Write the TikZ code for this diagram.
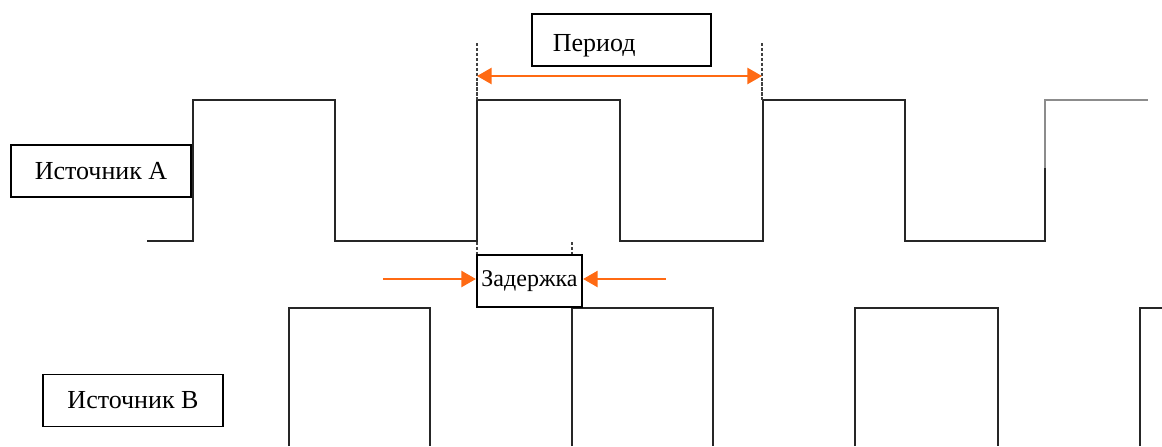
\documentclass[tikz,border=0pt]{standalone}
\usepackage{fontspec}
\setmainfont{Liberation Serif}
\usetikzlibrary{arrows.meta}
\definecolor{orng}{HTML}{FF6A13}
\begin{document}
\begin{tikzpicture}[x=0.75pt,y=-0.75pt,
  wave/.style={line width=1.5pt,line join=miter,black!85},
  grwave/.style={line width=1.5pt,black!45},
  dsh/.style={line width=1.1pt,black!75,dash pattern=on 2.5pt off 1.2pt},
  lbl/.style={draw,line width=1.3pt,inner sep=0pt,minimum height=39pt,font=\fontsize{19.5}{22}\selectfont},
  oarr/.style={draw=orng,line width=2pt,-{Triangle[length=11pt,width=12pt]}}]
\useasboundingbox (0,0) rectangle (1162,446);
% waveform A
\draw[wave] (147,241) -- (193,241) -- (193,100) -- (335,100) -- (335,241) -- (477,241) -- (477,100)
  -- (620,100) -- (620,241) -- (763,241) -- (763,100) -- (905,100) -- (905,241) -- (1045,241) -- (1045,168);
\draw[grwave] (1045,168) -- (1045,100) -- (1148,100);
% waveform B
\draw[wave] (289,446) -- (289,308) -- (430,308) -- (430,446);
\draw[wave] (572,446) -- (572,308) -- (713,308) -- (713,446);
\draw[wave] (855,446) -- (855,308) -- (998,308) -- (998,446);
\draw[wave] (1140,446) -- (1140,308) -- (1162,308);
% dashed markers
\coordinate (pl) at (477,76);
\coordinate (pr) at (762,76);
\draw[dsh] (477,43) -- (477,100);
\draw[dsh] (762,43) -- (762,100);
\draw[dsh] (477,242) -- (477,256);
\draw[dsh] (572,242) -- (572,256);
% labels
\node[lbl,minimum width=135pt] (srcA) at (101,171) {Источник А};
\node[lbl,minimum width=135pt] (srcB) at (133,400.5) {Источник В};
\node[lbl,minimum width=134pt,text width=103pt,inner xsep=15.5pt,align=left,text height=19pt,text depth=2.5pt] (period) at (621.5,40) {Период};
\node[lbl,minimum width=79pt,fill=white,font=\fontsize{18}{20}\selectfont] (delay) at (529.5,281) {Задержка};
% arrows
\coordinate (dl) at (383,279);
\coordinate (dr) at (666,279);
\draw[oarr,{Triangle[length=11pt,width=12pt]}-{Triangle[length=11pt,width=12pt]}] (pl) -- (pr);
\draw[oarr] (dl) -- (dl -| delay.west);
\draw[oarr] (dr) -- (dr -| delay.east);
\end{tikzpicture}
\end{document}
